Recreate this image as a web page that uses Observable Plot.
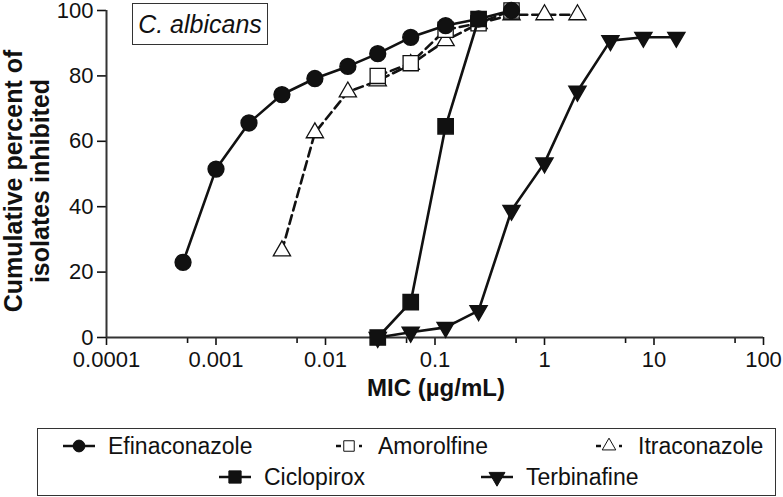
<!DOCTYPE html>
<html>
<head>
<meta charset="utf-8">
<script src="https://cdn.jsdelivr.net/npm/d3@7"></script>
<script src="https://cdn.jsdelivr.net/npm/@observablehq/plot@0.6"></script>
<style>
  html, body { margin: 0; padding: 0; background: #fff; }
  #wrap { position: relative; width: 783px; height: 497px; font-family: Arial, "Liberation Sans", sans-serif; }
  #title { position: absolute; left: 132px; top: 3px; width: 134px; height: 40px; border: 1.5px solid #333;
           font-style: italic; font-size: 25px; line-height: 40px; text-align: center; color: #111; }
  #legend { position: absolute; left: 37px; top: 428px; width: 737px; height: 66px; border: 1.5px solid #333; }
  .item { position: absolute; display: flex; align-items: center; font-size: 23px; color: #111; white-space: nowrap; }
  .item svg { display: block; margin-right: 0; }
</style>
</head>
<body>
<div id="wrap">
  <div id="chart"></div>
  <div id="title">C. albicans</div>
  <div id="legend"></div>
</div>
<script>
// MIC values (µg/mL) and cumulative percent inhibited
const efinaconazoleMIC = [0.0005, 0.001, 0.002, 0.004, 0.008, 0.016, 0.03, 0.06, 0.125, 0.25, 0.5];
const efinaconazolePct = [23, 51.5, 65.6, 74.3, 79.2, 82.9, 86.8, 91.8, 95.4, 97.4, 100];

const amorolfineMIC = [0.03, 0.06, 0.125, 0.25, 0.5];
const amorolfinePct = [80, 83.9, 94.1, 96.1, 100];

const itraconazoleMIC = [0.004, 0.008, 0.016, 0.03, 0.06, 0.125, 0.25, 0.5, 1, 2];
const itraconazolePct = [26.5, 62.6, 75.1, 78.5, 83.5, 90.8, 96, 98.7, 98.7, 98.7];

const ciclopiroxMIC = [0.03, 0.06, 0.125, 0.25];
const ciclopiroxPct = [0, 10.8, 64.6, 97.4];

const terbinafineMIC = [0.03, 0.06, 0.125, 0.25, 0.5, 1, 2, 4, 8, 16];
const terbinafinePct = [0, 1.6, 3.1, 8.2, 38.9, 53.4, 75.3, 90.8, 91.8, 91.8];

const xTicks = [0.0001, 0.001, 0.01, 0.1, 1, 10, 100];
const xTickLabels = ["0.0001", "0.001", "0.01", "0.1", "1", "10", "100"];
const xMinorTicks = [0.00055, 0.0055, 0.055, 0.55, 5.5, 55];
const yTicks = [0, 20, 40, 60, 80, 100];

const rows = (mic, pct) => mic.map((m, i) => ({mic: m, pct: pct[i]}));
const efi = rows(efinaconazoleMIC, efinaconazolePct);
const amo = rows(amorolfineMIC, amorolfinePct);
const itra = rows(itraconazoleMIC, itraconazolePct);
const cic = rows(ciclopiroxMIC, ciclopiroxPct);
const ter = rows(terbinafineMIC, terbinafinePct);

const ink = "#111";
const lw = 2.6;
const xLabelFor = d => xTickLabels[Math.round(Math.log10(d)) + 4];

const chart = Plot.plot({
  width: 783,
  height: 420,
  marginLeft: 106,
  marginRight: 20,
  marginTop: 10,
  marginBottom: 83,
  style: {fontFamily: "Arial, 'Liberation Sans', sans-serif", fontSize: "22px", color: ink, background: "transparent", overflow: "visible"},
  x: {type: "log", domain: [0.0001, 100]},
  y: {domain: [0, 100]},
  marks: [
    // axes
    Plot.axisX({ticks: xTicks, tickFormat: xLabelFor, tickSize: 8, tickPadding: 6, strokeWidth: 1.6, label: null, fontSize: 22}),
    Plot.axisX({ticks: xMinorTicks, tickFormat: () => "", tickSize: 6, strokeWidth: 1.6, label: null}),
    Plot.axisY({ticks: yTicks, tickSize: 9, tickPadding: 4, strokeWidth: 1.6, label: null, fontSize: 22}),
    Plot.ruleY([0], {stroke: "#333", strokeWidth: 2}),
    Plot.ruleX([0.0001], {stroke: "#333", strokeWidth: 2}),
    // axis titles
    Plot.text(["Cumulative percent of\nisolates inhibited"], {frameAnchor: "left", textAnchor: "middle", rotate: -90, dx: -80, dy: 7, fontWeight: "bold", fontSize: 25, lineHeight: 1.08, text: d => d, lineAnchor: "middle"}),
    Plot.text(["MIC (µg/mL)"], {frameAnchor: "bottom", textAnchor: "middle", dy: 58, dx: 1, fontWeight: "bold", fontSize: 24, text: d => d}),
    // series
    Plot.line(itra, {x: "mic", y: "pct", stroke: ink, strokeWidth: lw, strokeDasharray: "9,5"}),
    Plot.dot(itra, {x: "mic", y: "pct", symbol: "triangle", r: 6.4, fill: "white", stroke: ink, strokeWidth: 1.3}),
    Plot.line(amo, {x: "mic", y: "pct", stroke: ink, strokeWidth: lw, strokeDasharray: "9,5"}),
    Plot.dot(amo, {x: "mic", y: "pct", symbol: "square", r: 8.6, fill: "white", stroke: ink, strokeWidth: 1.3}),
    Plot.line(efi, {x: "mic", y: "pct", stroke: ink, strokeWidth: lw}),
    Plot.dot(efi, {x: "mic", y: "pct", symbol: "circle", r: 7.9, fill: ink, stroke: ink}),
    Plot.line(ter, {x: "mic", y: "pct", stroke: ink, strokeWidth: lw}),
    Plot.dot(ter, {x: "mic", y: "pct", symbol: "triangle", rotate: 180, r: 6.3, fill: ink, stroke: ink}),
    Plot.line(cic, {x: "mic", y: "pct", stroke: ink, strokeWidth: lw}),
    Plot.dot(cic, {x: "mic", y: "pct", symbol: "square", r: 8.6, fill: ink, stroke: ink})
  ]
});
document.getElementById("chart").appendChild(chart);

// Legend
const legendItems = [
  {name: "Efinaconazole", sym: d3.symbolCircle, size: 110, fill: ink, dashed: false, left: 16, top: 2},
  {name: "Amorolfine", sym: d3.symbolSquare, size: 110, fill: "white", dashed: true, left: 286, top: 2},
  {name: "Itraconazole", sym: d3.symbolTriangle, size: 80, fill: "white", dashed: true, left: 546, top: 2},
  {name: "Ciclopirox", sym: d3.symbolSquare, size: 150, fill: ink, dashed: false, left: 172, top: 33},
  {name: "Terbinafine", sym: d3.symbolTriangle, size: 110, fill: ink, dashed: false, rot: 180, left: 434, top: 33}
];
const legend = document.getElementById("legend");
for (const it of legendItems) {
  const div = document.createElement("div");
  div.className = "item";
  div.style.left = it.left + "px";
  div.style.top = it.top + "px";
  const s = d3.create("svg").attr("width", 50).attr("height", 30);
  const g = s.append("g").attr("transform", "translate(25,15)");
  if (it.dashed) {
    g.append("line").attr("x1", -13).attr("x2", -8).attr("stroke", ink).attr("stroke-width", 2.5);
    g.append("line").attr("x1", 10).attr("x2", 13).attr("stroke", ink).attr("stroke-width", 2.5);
  } else {
    g.append("line").attr("x1", -16).attr("x2", 16).attr("stroke", ink).attr("stroke-width", 2.5);
  }
  g.append("path").attr("d", d3.symbol(it.sym, it.size)()).attr("transform", it.rot ? `rotate(${it.rot})` : null)
    .attr("fill", it.fill).attr("stroke", ink).attr("stroke-width", 1);
  div.appendChild(s.node());
  const t = document.createElement("span");
  t.style.marginLeft = "4px";
  t.textContent = it.name;
  div.appendChild(t);
  legend.appendChild(div);
}
</script>
</body>
</html>
